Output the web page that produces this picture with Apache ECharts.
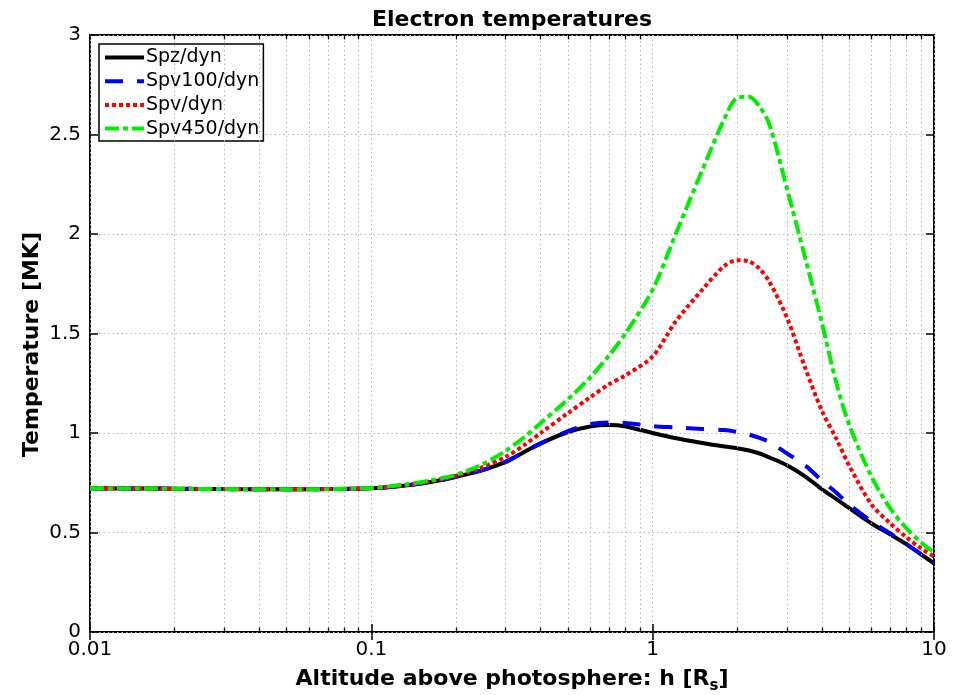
<!DOCTYPE html>
<html><head><meta charset="utf-8">
<script src="https://cdn.jsdelivr.net/npm/echarts@6/dist/echarts.min.js"></script>
<style>html,body{margin:0;padding:0;background:#fff}#c{width:961px;height:695px}</style>
</head><body><div id="c"></div>
<script>
const altitude = [0.01,0.015,0.02,0.03,0.05,0.07,0.1,0.13,0.16,0.2,0.25,0.3,0.35,0.4,0.5,0.6,0.7,0.8,1.0,1.2,1.5,1.8,2.0,2.2,2.4,2.6,3.0,3.5,4.0,4.5,5.0,6.0,7.0,8.0,9.0,10];
const spz      = [0.722,0.721,0.72,0.718,0.717,0.718,0.722,0.735,0.752,0.78,0.815,0.855,0.905,0.948,1.005,1.033,1.04,1.033,1.0,0.975,0.95,0.932,0.923,0.912,0.897,0.877,0.838,0.78,0.717,0.668,0.622,0.545,0.49,0.44,0.39,0.345];
const spv100   = [0.722,0.721,0.72,0.718,0.717,0.718,0.722,0.735,0.752,0.78,0.815,0.855,0.905,0.948,1.01,1.045,1.053,1.05,1.035,1.028,1.02,1.015,1.005,0.992,0.975,0.955,0.898,0.835,0.76,0.70,0.64,0.555,0.495,0.44,0.39,0.345];
const spv      = [0.722,0.721,0.72,0.718,0.717,0.718,0.723,0.737,0.756,0.785,0.83,0.88,0.94,1.0,1.1,1.18,1.245,1.29,1.385,1.555,1.72,1.84,1.868,1.862,1.825,1.76,1.58,1.32,1.11,0.97,0.835,0.64,0.545,0.475,0.42,0.38];
const spv450   = [0.722,0.721,0.72,0.718,0.717,0.718,0.724,0.74,0.76,0.79,0.845,0.91,0.98,1.05,1.17,1.28,1.39,1.5,1.72,1.99,2.32,2.58,2.685,2.69,2.64,2.55,2.23,1.87,1.55,1.25,1.04,0.78,0.62,0.52,0.45,0.40];
const seriesNames = ['Spz/dyn','Spv100/dyn','Spv/dyn','Spv450/dyn'];
const xTickLabels = [0.01,0.1,1,10];
const yTickLabels = [0,0.5,1,1.5,2,2.5,3];

const pair = (xs, ys) => xs.map((x,i)=>[x,ys[i]]);
// minor log positions 2..9 x 10^k
const minorX = [];
for (let e=-2;e<1;e++) for (let k=2;k<=9;k++) minorX.push(+(k*Math.pow(10,e)).toPrecision(3));

const font = 'DejaVu Sans';
const gridLines = minorX.map(v=>({xAxis:v}));
const tickLines = [];
minorX.forEach(v=>{
  tickLines.push([{coord:[v,0]},{coord:[v,0.022]}]);
  tickLines.push([{coord:[v,2.978]},{coord:[v,3]}]);
});
const dotted = {color:'#b8b8b8',type:[1.5,3],width:1};

const chart = echarts.init(document.getElementById('c'));
chart.setOption({
  animation:false,
  backgroundColor:'#fff',
  title:{text:'Electron temperatures',left:512,textAlign:'center',top:9,padding:0,textStyle:{fontFamily:font,fontWeight:'bold',fontSize:22,color:'#000'}},
  grid:{left:90,right:27,top:35,bottom:63,show:true,borderColor:'#000',borderWidth:2,backgroundColor:'#fff',outerBoundsMode:'none',containLabel:false},
  legend:{left:99,top:44,orient:'vertical',backgroundColor:'#fff',borderColor:'#000',borderWidth:1.5,borderRadius:0,
    padding:[4,4,3,4],itemWidth:39,itemHeight:18,itemGap:4.7,
    itemStyle:{opacity:0},lineStyle:{width:4},
    textStyle:{fontFamily:font,fontSize:19,color:'#000',padding:[0,0,0,-3]},data:seriesNames},
  xAxis:[{type:'log',logBase:10,min:0.01,max:10,position:'bottom',
    name:'{s|Altitude above photosphere: h [R}{sub|s}{s|]}',nameLocation:'middle',nameGap:33,
    nameTextStyle:{fontFamily:font,fontWeight:'bold',fontSize:22,color:'#000',
      rich:{s:{fontFamily:font,fontWeight:'bold',fontSize:22,color:'#000'},sub:{fontFamily:font,fontWeight:'bold',fontSize:15,color:'#000',verticalAlign:'bottom',padding:[14,0,0,0]}}},
    axisLine:{show:false},axisTick:{inside:true,length:8,lineStyle:{color:'#000',width:1.5}},
    axisLabel:{fontFamily:font,fontSize:20,color:'#000',margin:8,formatter:v=>xTickLabels.includes(+v)?String(+v):''},
    splitLine:{show:true,lineStyle:dotted}},
   {type:'log',logBase:10,min:0.01,max:10,position:'top',axisLine:{show:false},axisLabel:{show:false},
    axisTick:{inside:true,length:8,lineStyle:{color:'#000',width:1.5}},splitLine:{show:false}}],
  yAxis:[{type:'value',min:0,max:3,interval:0.5,position:'left',
    name:'Temperature [MK]',nameLocation:'middle',nameGap:47,nameMoveOverlap:false,
    nameTextStyle:{fontFamily:font,fontWeight:'bold',fontSize:22,color:'#000',padding:[0,22,0,0]},
    axisLine:{show:false},axisTick:{inside:true,length:8,lineStyle:{color:'#000',width:1.5}},
    axisLabel:{fontFamily:font,fontSize:20,color:'#000',margin:9,formatter:v=>yTickLabels.includes(+v)?String(+v):''},
    splitLine:{show:true,lineStyle:dotted}},
   {type:'value',min:0,max:3,interval:0.5,position:'right',axisLine:{show:false},axisLabel:{show:false},
    axisTick:{inside:true,length:8,lineStyle:{color:'#000',width:1.5}},splitLine:{show:false}}],
  series:[
    {type:'line',name:'grid',data:[],silent:true,z:1,
      markLine:{silent:true,symbol:'none',label:{show:false},animation:false,
        lineStyle:dotted,emphasis:{disabled:true},data:gridLines}},
    {type:'line',name:'ticks',data:[],silent:true,z:3,
      markLine:{silent:true,symbol:'none',label:{show:false},animation:false,
        lineStyle:{color:'#000',type:'solid',width:1.3},emphasis:{disabled:true},data:tickLines}},
    {type:'line',name:seriesNames[0],data:pair(altitude,spz),showSymbol:false,symbol:'none',smooth:0.3,z:4,
      lineStyle:{color:'#000',width:4,type:'solid'},itemStyle:{color:'#000'}},
    {type:'line',name:seriesNames[1],data:pair(altitude,spv100),showSymbol:false,symbol:'none',smooth:0.3,z:5,
      lineStyle:{color:'#0000ff',width:4,type:[18,14]},itemStyle:{color:'#0000ff'}},
    {type:'line',name:seriesNames[2],data:pair(altitude,spv),showSymbol:false,symbol:'none',smooth:0.3,z:6,
      lineStyle:{color:'#ff0000',width:4,type:[4,3]},itemStyle:{color:'#ff0000'}},
    {type:'line',name:seriesNames[3],data:pair(altitude,spv450),showSymbol:false,symbol:'none',smooth:0.3,z:7,
      lineStyle:{color:'#00ee00',width:4,type:[14,4,5,4]},itemStyle:{color:'#00ee00'}}
  ]
});
</script></body></html>
